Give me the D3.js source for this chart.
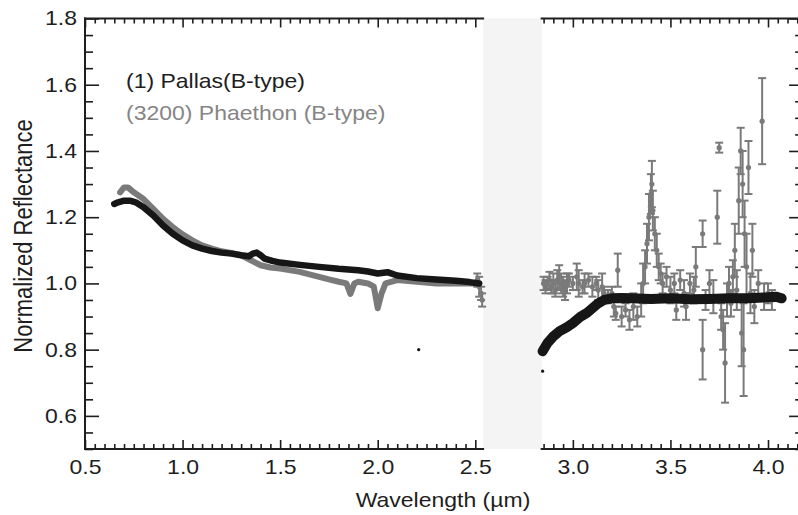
<!DOCTYPE html>
<html>
<head>
<meta charset="utf-8">
<script src="https://cdn.jsdelivr.net/npm/d3@7"></script>
<style>
  body { margin: 0; background: #fff; }
  svg { display: block; font-family: "Liberation Sans", Arial, sans-serif; }
</style>
</head>
<body>
<script>
// (1) Pallas, visible/near-IR part
let pallasWlA = [0.65, 0.67, 0.70, 0.73, 0.76, 0.80, 0.85, 0.90, 0.95, 1.00, 1.05, 1.10, 1.15, 1.20, 1.25, 1.30, 1.34, 1.36, 1.38, 1.40, 1.42, 1.46, 1.50, 1.60, 1.70, 1.80, 1.90, 1.95, 2.00, 2.05, 2.10, 2.20, 2.30, 2.40, 2.47, 2.52];
let pallasRfA = [1.24, 1.245, 1.25, 1.25, 1.245, 1.23, 1.205, 1.175, 1.15, 1.13, 1.115, 1.105, 1.098, 1.093, 1.09, 1.085, 1.082, 1.09, 1.093, 1.085, 1.075, 1.068, 1.063, 1.056, 1.05, 1.044, 1.04, 1.036, 1.03, 1.034, 1.024, 1.016, 1.012, 1.008, 1.004, 1.0];
// (1) Pallas, 3 um part
let pallasWlB = [2.845, 2.87, 2.90, 2.93, 2.97, 3.00, 3.04, 3.07, 3.10, 3.13, 3.16, 3.20, 3.25, 3.30, 3.40, 3.50, 3.60, 3.70, 3.80, 3.90, 3.95, 4.00, 4.04, 4.07];
let pallasRfB = [0.795, 0.82, 0.84, 0.855, 0.868, 0.88, 0.90, 0.91, 0.925, 0.94, 0.95, 0.955, 0.956, 0.955, 0.953, 0.955, 0.952, 0.953, 0.955, 0.955, 0.957, 0.958, 0.96, 0.955];
let pallasStrayWl = [2.21, 2.845];
let pallasStrayRf = [0.80, 0.735];

// (3200) Phaethon, visible/near-IR part
let phaethonWlA = [0.68, 0.70, 0.72, 0.75, 0.80, 0.85, 0.90, 0.95, 1.00, 1.05, 1.10, 1.15, 1.20, 1.25, 1.30, 1.35, 1.40, 1.45, 1.50, 1.60, 1.70, 1.75, 1.80, 1.84, 1.86, 1.88, 1.90, 1.95, 1.98, 2.00, 2.02, 2.04, 2.10, 2.20, 2.30, 2.40, 2.50];
let phaethonRfA = [1.275, 1.29, 1.29, 1.275, 1.255, 1.225, 1.195, 1.17, 1.148, 1.13, 1.115, 1.105, 1.097, 1.092, 1.085, 1.07, 1.055, 1.048, 1.045, 1.035, 1.02, 1.012, 1.005, 1.0, 0.968, 1.0, 1.005, 1.0, 0.99, 0.925, 0.97, 1.0, 1.01, 1.005, 1.0, 1.0, 1.0];
// (3200) Phaethon, points with error bars
let phaethonWlB = [2.51, 2.52, 2.53, 2.535,
  2.85, 2.86, 2.87, 2.88, 2.89, 2.90, 2.91, 2.92, 2.93, 2.94, 2.95, 2.96, 2.97, 2.98, 3.00, 3.02, 3.03, 3.05, 3.06, 3.08, 3.10, 3.12, 3.13, 3.15, 3.16, 3.18, 3.20,
  3.21, 3.22, 3.23, 3.25, 3.27, 3.29, 3.31, 3.33, 3.35, 3.36, 3.37, 3.38, 3.39, 3.40, 3.405, 3.41, 3.42, 3.43, 3.44, 3.45, 3.46, 3.48, 3.50, 3.52, 3.53, 3.55, 3.57, 3.58, 3.60, 3.62, 3.63,
  3.665, 3.665, 3.68, 3.70, 3.72, 3.74, 3.75, 3.76, 3.77, 3.78, 3.79, 3.80, 3.81, 3.82, 3.83, 3.84, 3.85, 3.86, 3.865, 3.87, 3.875, 3.88, 3.89, 3.90, 3.91, 3.92, 3.93, 3.95, 3.97, 3.98, 4.00, 4.02];
let phaethonRfB = [1.01, 0.99, 0.97, 0.95,
  1.00, 0.99, 1.00, 1.01, 0.99, 1.00, 0.98, 1.01, 1.02, 1.00, 0.99, 0.98, 1.00, 1.01, 1.00, 1.02, 1.00, 0.99, 1.00, 1.01, 0.99, 1.00, 0.98, 0.99, 0.97, 0.96, 0.97,
  0.93, 0.91, 1.04, 0.90, 0.92, 0.89, 0.93, 0.90, 0.95, 1.00, 1.05, 1.12, 1.20, 1.27, 1.30, 1.22, 1.15, 1.10, 1.05, 1.03, 1.00, 1.02, 0.98, 1.00, 0.92, 1.01, 0.97, 0.93, 1.00, 0.98, 1.05,
  0.80, 1.15, 0.95, 1.00, 0.96, 1.20, 1.41, 0.90, 0.86, 0.76, 0.95, 1.00, 0.94, 1.02, 1.10, 0.98, 1.25, 1.40, 0.85, 1.30, 0.80, 1.15, 1.05, 1.35, 0.97, 1.10, 0.93, 1.00, 1.49, 0.96, 0.97, 0.95];
let phaethonErrB = [0.02, 0.03, 0.02, 0.02,
  0.02, 0.02, 0.02, 0.025, 0.02, 0.03, 0.02, 0.03, 0.035, 0.03, 0.03, 0.03, 0.03, 0.02, 0.02, 0.04, 0.04, 0.02, 0.03, 0.02, 0.03, 0.02, 0.03, 0.04, 0.02, 0.02, 0.02,
  0.03, 0.02, 0.05, 0.03, 0.02, 0.03, 0.04, 0.03, 0.05, 0.06, 0.05, 0.06, 0.07, 0.06, 0.07, 0.06, 0.05, 0.05, 0.04, 0.03, 0.03, 0.03, 0.04, 0.03, 0.03, 0.03, 0.04, 0.04, 0.03, 0.04, 0.06,
  0.09, 0.04, 0.03, 0.04, 0.05, 0.08, 0.015, 0.04, 0.06, 0.12, 0.05, 0.05, 0.04, 0.05, 0.08, 0.06, 0.10, 0.07, 0.10, 0.10, 0.14, 0.10, 0.10, 0.08, 0.06, 0.08, 0.05, 0.04, 0.13, 0.04, 0.03, 0.03];

let xMajor = [0.5, 1.0, 1.5, 2.0, 2.5, 3.0, 3.5, 4.0];
let yMajor = [0.6, 0.8, 1.0, 1.2, 1.4, 1.6, 1.8];
let legendLabels = ["(1) Pallas(B-type)", "(3200) Phaethon (B-type)"];

let width = 798, height = 515;
let gapLo = 2.54, gapHi = 2.84, xEnd = 4.18;
let black = "#161616", gray = "#7a7a7a", ink = "#1e1e1e";
let stretch = "scale(1.15,1)";

let x = d3.scaleLinear().domain([0.5, 4.0]).range([85, 768]);
let y = d3.scaleLinear().domain([0.5, 1.8]).range([449, 18.5]);

let svg = d3.select("body")
    .append("svg")
    .attr("width", width)
    .attr("height", height);

// gap between the two wavelength ranges
svg.append("rect")
    .attr("x", x(gapLo))
    .attr("y", y(1.8))
    .attr("width", x(gapHi) - x(gapLo))
    .attr("height", y(0.5) - y(1.8))
    .attr("fill", "#f4f4f4");

function zip(a, b) { return a.map(function(d, i) { return [d, b[i]]; }); }

function minorTicks(lo, hi, step, skip) {
  let out = [];
  for (let v = Math.round(lo / step); v * step <= hi + 1e-9; v++) {
    let t = +(v * step).toFixed(3);
    if (t >= lo - 1e-9 && skip.indexOf(t) < 0) out.push(t);
  }
  return out;
}

let xMinor = minorTicks(0.5, gapLo, 0.05, xMajor).concat(minorTicks(2.85, 4.15, 0.05, xMajor));
let yMinor = minorTicks(0.5, 1.8, 0.05, yMajor);

let line = d3.line()
    .x(function(d) { return x(d[0]); })
    .y(function(d) { return y(d[1]); })
    .curve(d3.curveLinear);

// Phaethon continuous part
svg.append("path")
    .datum(zip(phaethonWlA, phaethonRfA))
    .attr("d", line)
    .attr("fill", "none")
    .attr("stroke", gray)
    .attr("stroke-width", 6)
    .attr("stroke-linejoin", "round")
    .attr("stroke-linecap", "round");

// Phaethon error bars
let pts = phaethonWlB.map(function(w, i) { return { w: w, r: phaethonRfB[i], e: phaethonErrB[i] }; });
let bars = svg.append("g")
    .attr("stroke", gray)
    .attr("stroke-width", 2);

bars.selectAll("line.v")
    .data(pts)
    .join("line")
    .attr("class", "v")
    .attr("x1", function(d) { return x(d.w); })
    .attr("x2", function(d) { return x(d.w); })
    .attr("y1", function(d) { return y(d.r - d.e); })
    .attr("y2", function(d) { return y(d.r + d.e); });

bars.selectAll("line.lo")
    .data(pts)
    .join("line")
    .attr("class", "lo")
    .attr("x1", function(d) { return x(d.w) - 4; })
    .attr("x2", function(d) { return x(d.w) + 4; })
    .attr("y1", function(d) { return y(d.r - d.e); })
    .attr("y2", function(d) { return y(d.r - d.e); });

bars.selectAll("line.hi")
    .data(pts)
    .join("line")
    .attr("class", "hi")
    .attr("x1", function(d) { return x(d.w) - 4; })
    .attr("x2", function(d) { return x(d.w) + 4; })
    .attr("y1", function(d) { return y(d.r + d.e); })
    .attr("y2", function(d) { return y(d.r + d.e); });

svg.append("g")
    .selectAll("circle")
    .data(pts)
    .join("circle")
    .attr("cx", function(d) { return x(d.w); })
    .attr("cy", function(d) { return y(d.r); })
    .attr("r", 2.6)
    .attr("fill", gray);

// Pallas
svg.append("path")
    .datum(zip(pallasWlA, pallasRfA))
    .attr("d", line)
    .attr("fill", "none")
    .attr("stroke", black)
    .attr("stroke-width", 6.5)
    .attr("stroke-linejoin", "round")
    .attr("stroke-linecap", "round");

svg.append("path")
    .datum(zip(pallasWlB, pallasRfB))
    .attr("d", line)
    .attr("fill", "none")
    .attr("stroke", black)
    .attr("stroke-width", 10)
    .attr("stroke-linejoin", "round")
    .attr("stroke-linecap", "round");

svg.append("g")
    .selectAll("circle")
    .data(zip(pallasStrayWl, pallasStrayRf))
    .join("circle")
    .attr("cx", function(d) { return x(d[0]); })
    .attr("cy", function(d) { return y(d[1]); })
    .attr("r", 1.6)
    .attr("fill", black);

// axes
function styleAxis(g) {
  g.select(".domain").remove();
  g.selectAll(".tick line").attr("stroke", ink).attr("stroke-width", 1.6);
  g.selectAll(".tick text")
    .attr("fill", ink)
    .attr("font-size", 20)
    .attr("font-family", "Liberation Sans, Arial, sans-serif")
    .attr("transform", stretch);
}

let yB = y(0.5), yT = y(1.8), xL = x(0.5), xR = x(xEnd);

svg.append("g")
    .attr("transform", "translate(0," + yB + ")")
    .call(d3.axisBottom(x).tickValues(xMajor).tickSize(-9).tickPadding(11).tickFormat(d3.format(".1f")))
    .call(styleAxis);
svg.append("g")
    .attr("transform", "translate(0," + yB + ")")
    .call(d3.axisBottom(x).tickValues(xMinor).tickSize(-5).tickFormat(""))
    .call(styleAxis);
svg.append("g")
    .attr("transform", "translate(0," + yT + ")")
    .call(d3.axisTop(x).tickValues(xMajor).tickSize(-9).tickFormat(""))
    .call(styleAxis);
svg.append("g")
    .attr("transform", "translate(0," + yT + ")")
    .call(d3.axisTop(x).tickValues(xMinor).tickSize(-5).tickFormat(""))
    .call(styleAxis);

svg.append("g")
    .attr("transform", "translate(" + xL + ",0)")
    .call(d3.axisLeft(y).tickValues(yMajor).tickSize(-14).tickPadding(7).tickFormat(d3.format(".1f")))
    .call(styleAxis);
svg.append("g")
    .attr("transform", "translate(" + xL + ",0)")
    .call(d3.axisLeft(y).tickValues(yMinor).tickSize(-8).tickFormat(""))
    .call(styleAxis);
svg.append("g")
    .attr("transform", "translate(" + xR + ",0)")
    .call(d3.axisRight(y).tickValues(yMajor).tickSize(-14).tickFormat(""))
    .call(styleAxis);
svg.append("g")
    .attr("transform", "translate(" + xR + ",0)")
    .call(d3.axisRight(y).tickValues(yMinor).tickSize(-8).tickFormat(""))
    .call(styleAxis);

// frame lines, broken across the gap
let frame = [
  [xL, yB, x(gapLo), yB], [x(gapHi), yB, xR, yB],
  [xL, yT, x(gapLo), yT], [x(gapHi), yT, xR, yT],
  [xL, yT, xL, yB], [xR, yT, xR, yB]
];
svg.append("g")
    .selectAll("line")
    .data(frame)
    .join("line")
    .attr("x1", function(d) { return d[0]; })
    .attr("y1", function(d) { return d[1]; })
    .attr("x2", function(d) { return d[2]; })
    .attr("y2", function(d) { return d[3]; })
    .attr("stroke", ink)
    .attr("stroke-width", 2)
    .attr("stroke-linecap", "square");

// axis titles
svg.append("text")
    .attr("transform", "translate(443,507) " + stretch)
    .attr("text-anchor", "middle")
    .attr("font-size", 20)
    .attr("fill", ink)
    .text("Wavelength (\u00b5m)");

svg.append("text")
    .attr("transform", "translate(32,236) " + stretch + " rotate(-90)")
    .attr("text-anchor", "middle")
    .attr("font-size", 22)
    .attr("fill", ink)
    .text("Normalized Reflectance");

// legend
svg.append("g")
    .selectAll("text")
    .data(legendLabels)
    .join("text")
    .attr("transform", function(d, i) { return "translate(126," + (88 + i * 32) + ") " + stretch; })
    .attr("font-size", 20)
    .attr("fill", function(d, i) { return i === 0 ? ink : "#858585"; })
    .text(function(d) { return d; });
</script>
</body>
</html>
